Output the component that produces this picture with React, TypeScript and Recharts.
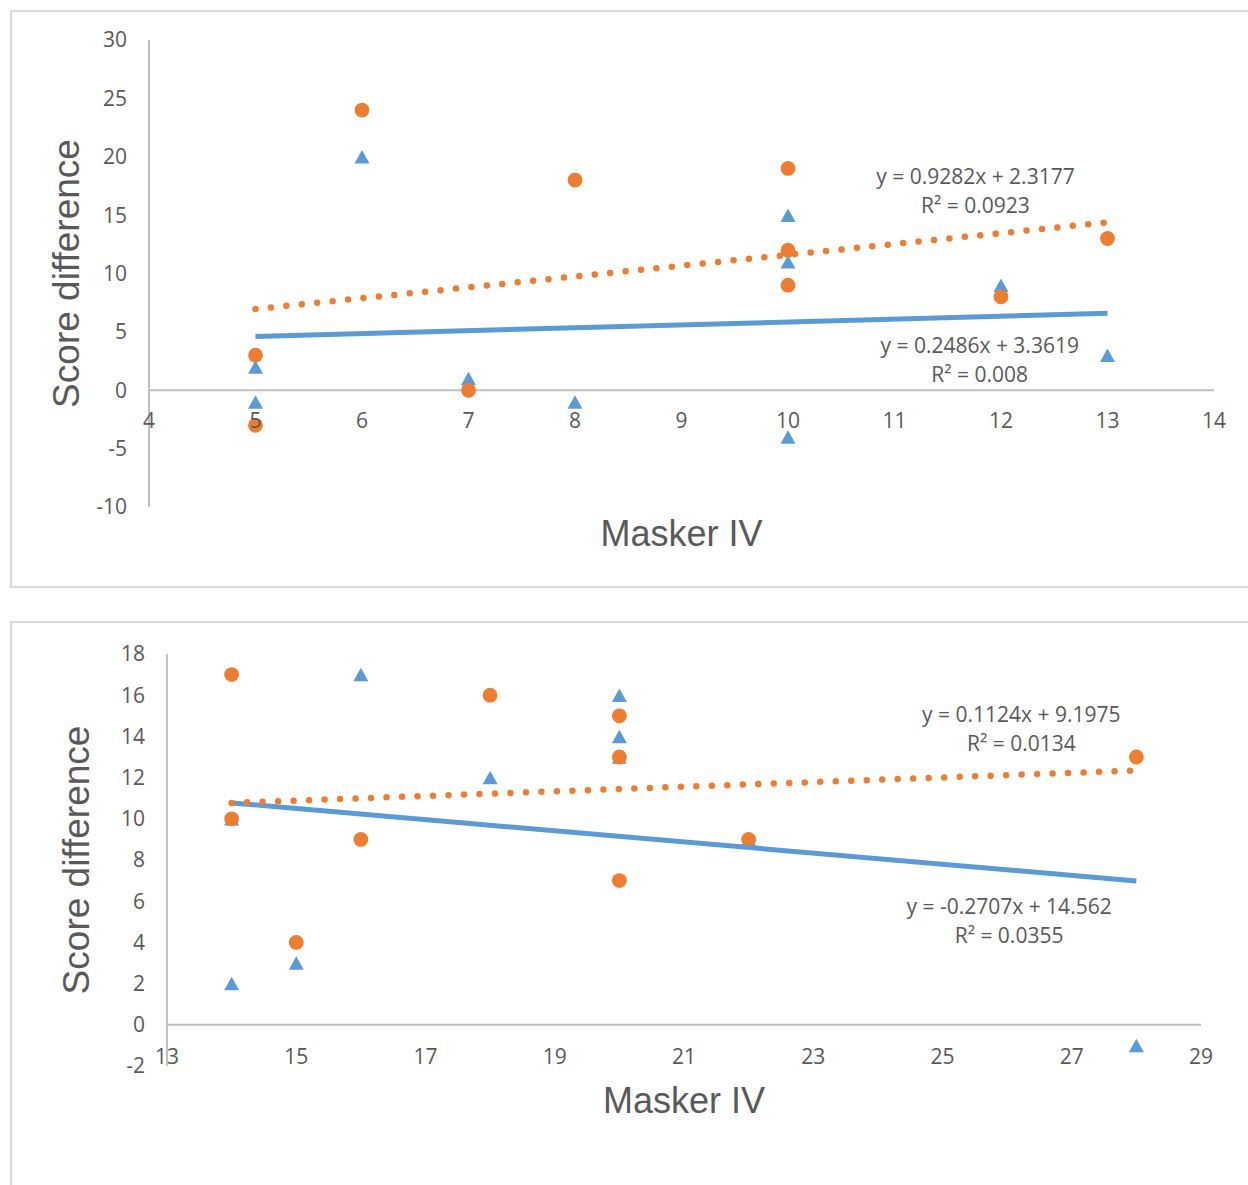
import React from "react";
import { ScatterChart, Scatter, XAxis, YAxis, ReferenceLine, ReferenceDot } from "recharts";

// ---------- Data: top chart ----------
const topBlueX = [5, 5, 6, 7, 8, 10, 10, 10, 12, 13];
const topBlueY = [2, -1, 20, 1, -1, 15, 11, -4, 9, 3];
const topOrangeX = [5, 5, 6, 7, 8, 10, 10, 10, 12, 13];
const topOrangeY = [3, -3, 24, 0, 18, 19, 12, 9, 8, 13];
const topBlueTrendX = [5, 13];
const topBlueTrendY = [4.605, 6.594];
const topOrangeTrendX = [5, 13];
const topOrangeTrendY = [6.959, 14.384];
const topXTicks = [4, 5, 6, 7, 8, 9, 10, 11, 12, 13, 14];
const topYTicks = [-10, -5, 0, 5, 10, 15, 20, 25, 30];
const topOrangeEq = ["y = 0.9282x + 2.3177", "R² = 0.0923"];
const topBlueEq = ["y = 0.2486x + 3.3619", "R² = 0.008"];

// ---------- Data: bottom chart ----------
const botBlueX = [14, 14, 15, 16, 18, 20, 20, 20, 22, 28];
const botBlueY = [10, 2, 3, 17, 12, 16, 14, 13, 9, -1];
const botOrangeX = [14, 14, 15, 16, 18, 20, 20, 20, 22, 28];
const botOrangeY = [17, 10, 4, 9, 16, 15, 13, 7, 9, 13];
const botBlueTrendX = [14, 28];
const botBlueTrendY = [10.772, 6.982];
const botOrangeTrendX = [14, 28];
const botOrangeTrendY = [10.771, 12.345];
const botXTicks = [13, 15, 17, 19, 21, 23, 25, 27, 29];
const botYTicks = [-2, 0, 2, 4, 6, 8, 10, 12, 14, 16, 18];
const botOrangeEq = ["y = 0.1124x + 9.1975", "R² = 0.0134"];
const botBlueEq = ["y = -0.2707x + 14.562", "R² = 0.0355"];

const xTitle = "Masker IV";
const yTitle = "Score difference";

const zip = (xs: number[], ys: number[]) => xs.map((x, i) => ({ x, y: ys[i] }));

// ---------- Styles ----------
const BLUE = "#5B9BD5";
const ORANGE = "#ED7D31";
const TEXT = "#595959";
const AXIS = "#c0c0c0";
const NUM_FONT = "'Open Sans', sans-serif";
const TITLE_FONT = "'Liberation Sans', Arial, sans-serif";

const Circle = (p: any) => <circle cx={p.cx} cy={p.cy} r={7.4} fill={ORANGE} />;
const Triangle = (p: any) => {
  const w = 15, h = 13.5;
  const pts = `${p.cx - w / 2},${p.cy + h / 2} ${p.cx + w / 2},${p.cy + h / 2} ${p.cx},${p.cy - h / 2}`;
  return <polygon points={pts} fill={BLUE} />;
};
const Nothing = () => <g />;

type PanelProps = {
  top: number;
  height: number;
  margin: { top: number; right: number; bottom: number; left: number };
  xDomain: [number, number];
  yDomain: [number, number];
  xTicks: number[];
  yTicks: number[];
  blue: { x: number; y: number }[];
  orange: { x: number; y: number }[];
  blueTrend: { x: number; y: number }[];
  orangeTrend: { x: number; y: number }[];
  orangeEq: string[];
  blueEq: string[];
  orangeEqPos: { x: number; y: number[] };
  blueEqPos: { x: number; y: number[] };
  yTitleOffset: number;
  xTitleOffset: number;
  xTickOffset: number;
  xAxisHeight: number;
};

const Panel = (pp: PanelProps) => (
  <div style={{ position: "absolute", left: 0, top: pp.top }}>
    <ScatterChart width={1248} height={pp.height} margin={pp.margin}>
      <XAxis
        type="number"
        dataKey="x"
        domain={pp.xDomain}
        ticks={pp.xTicks}
        tick={false}
        tickLine={false}
        axisLine={false}
        height={pp.xAxisHeight}
        label={{
          value: xTitle,
          position: "insideTop",
          offset: pp.xTitleOffset,
          fill: TEXT,
          fontSize: 36,
          fontFamily: TITLE_FONT,
        }}
      />
      <YAxis
        type="number"
        dataKey="y"
        domain={pp.yDomain}
        ticks={pp.yTicks}
        interval={0}
        width={120}
        tickLine={false}
        tickMargin={16}
        axisLine={{ stroke: AXIS, strokeWidth: 2 }}
        tick={{ fill: TEXT, fontSize: 21, fontFamily: NUM_FONT }}
        label={{
          value: yTitle,
          angle: -90,
          position: "insideLeft",
          offset: pp.yTitleOffset,
          fill: TEXT,
          fontSize: 37,
          fontFamily: TITLE_FONT,
          style: { textAnchor: "middle" },
        }}
      />
      <ReferenceLine y={0} stroke={AXIS} strokeWidth={2} />
      <Scatter data={pp.blue} shape={Triangle} isAnimationActive={false} />
      <Scatter data={pp.orange} shape={Circle} isAnimationActive={false} />
      <Scatter
        data={pp.blueTrend}
        shape={Nothing}
        line={{ stroke: BLUE, strokeWidth: 5 }}
        isAnimationActive={false}
      />
      <Scatter
        data={pp.orangeTrend}
        shape={Nothing}
        line={{ stroke: ORANGE, strokeWidth: 6.5, strokeDasharray: "0 15.5", strokeLinecap: "round" }}
        isAnimationActive={false}
      />
      {pp.xTicks.map((t) => (
        <ReferenceDot
          key={"xt" + t}
          x={t}
          y={0}
          r={0}
          fill="none"
          stroke="none"
          label={{
            value: String(t),
            position: "bottom",
            offset: pp.xTickOffset,
            fill: TEXT,
            fontSize: 21,
            fontFamily: NUM_FONT,
          }}
        />
      ))}
      {pp.orangeEq.map((s, i) => (
        <ReferenceDot
          key={"oe" + i}
          x={pp.orangeEqPos.x}
          y={pp.orangeEqPos.y[i]}
          r={0}
          fill="none"
          stroke="none"
          label={{ value: s, position: "center", fill: TEXT, fontSize: 21, fontFamily: NUM_FONT }}
        />
      ))}
      {pp.blueEq.map((s, i) => (
        <ReferenceDot
          key={"be" + i}
          x={pp.blueEqPos.x}
          y={pp.blueEqPos.y[i]}
          r={0}
          fill="none"
          stroke="none"
          label={{ value: s, position: "center", fill: TEXT, fontSize: 21, fontFamily: NUM_FONT }}
        />
      ))}
    </ScatterChart>
  </div>
);

export default function App() {
  return (
    <div
      style={{
        position: "absolute",
        left: 0,
        top: 0,
        width: 1248,
        height: 1185,
        overflow: "hidden",
        background: "#fff",
      }}
    >
      <div
        style={{
          position: "absolute",
          left: 10,
          top: 10,
          width: 1260,
          height: 578,
          border: "2px solid #d9d9d9",
          boxSizing: "border-box",
        }}
      />
      <div
        style={{
          position: "absolute",
          left: 10,
          top: 621,
          width: 1260,
          height: 620,
          border: "2px solid #d9d9d9",
          boxSizing: "border-box",
        }}
      />
      <Panel
        top={0}
        height={600}
        margin={{ top: 40, right: 34, bottom: 33, left: 29 }}
        xDomain={[4, 14]}
        yDomain={[-10, 30]}
        xTicks={topXTicks}
        yTicks={topYTicks}
        blue={zip(topBlueX, topBlueY)}
        orange={zip(topOrangeX, topOrangeY)}
        blueTrend={zip(topBlueTrendX, topBlueTrendY)}
        orangeTrend={zip(topOrangeTrendX, topOrangeTrendY)}
        orangeEq={topOrangeEq}
        blueEq={topBlueEq}
        orangeEqPos={{ x: 11.76, y: [18.3, 15.8] }}
        blueEqPos={{ x: 11.8, y: [3.85, 1.37] }}
        yTitleOffset={37}
        xTitleOffset={13}
        xTickOffset={23}
        xAxisHeight={60}
      />
      <Panel
        top={612}
        height={573}
        margin={{ top: 42, right: 47, bottom: 39, left: 47 }}
        xDomain={[13, 29]}
        yDomain={[-2, 18]}
        xTicks={botXTicks}
        yTicks={botYTicks}
        blue={zip(botBlueX, botBlueY)}
        orange={zip(botOrangeX, botOrangeY)}
        blueTrend={zip(botBlueTrendX, botBlueTrendY)}
        orangeTrend={zip(botOrangeTrendX, botOrangeTrendY)}
        orangeEq={botOrangeEq}
        blueEq={botBlueEq}
        orangeEqPos={{ x: 26.22, y: [15.05, 13.64] }}
        blueEqPos={{ x: 26.03, y: [5.73, 4.32] }}
        yTitleOffset={29}
        xTitleOffset={21}
        xTickOffset={24}
        xAxisHeight={80}
      />
    </div>
  );
}
